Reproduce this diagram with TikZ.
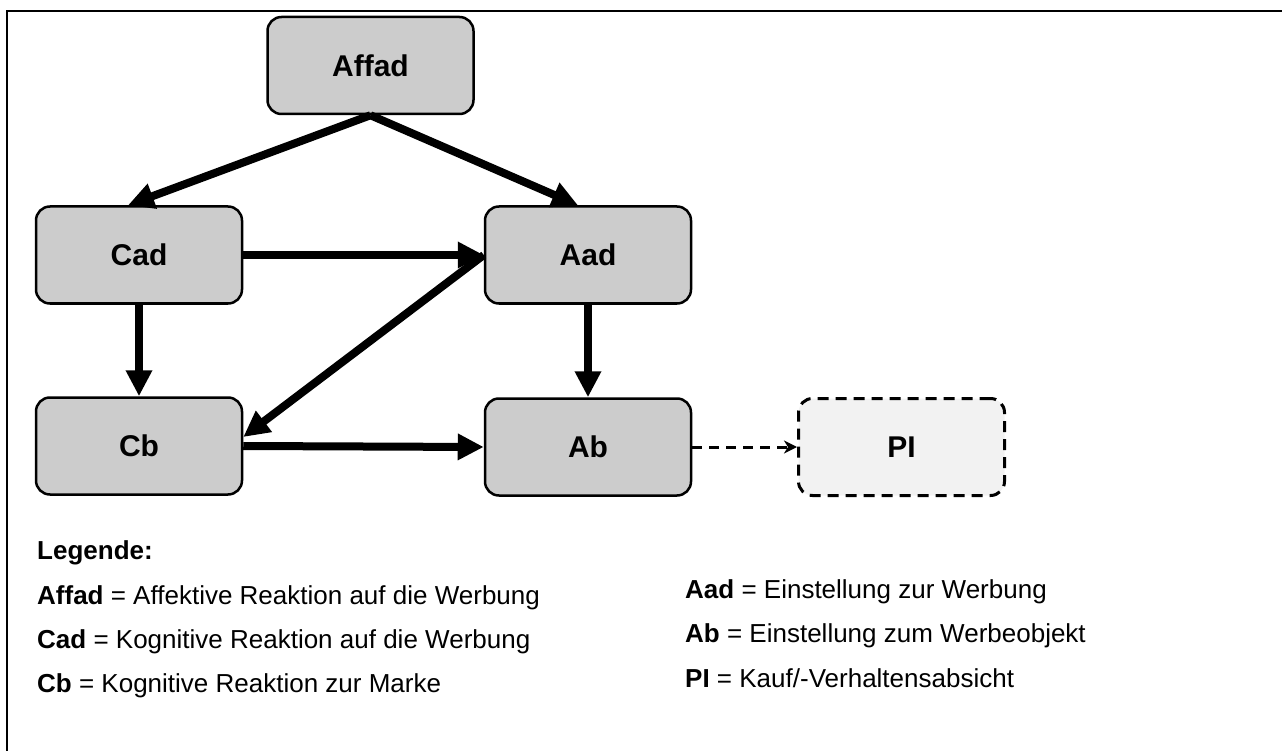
\documentclass[tikz,border=0pt]{standalone}
\usepackage{fontspec}
\setmainfont{Liberation Sans}
\usetikzlibrary{arrows.meta}
\begin{document}
\begin{tikzpicture}[x=1pt,y=-1pt,
  box/.style={draw, line width=2.5pt, rounded corners=14pt, fill=boxgray,
    minimum width=206pt, minimum height=97pt, inner sep=0pt,
    font=\fontsize{30}{35}\selectfont\bfseries},
  dashbox/.style={box, line width=3pt, fill=pigray, dash pattern=on 11pt off 7pt},
  link/.style={line width=8pt, -{Triangle[length=26pt,width=25pt]}},
  dashlink/.style={line width=3pt, dash pattern=on 10pt off 7pt,
    -{Stealth[length=13pt,width=13pt,inset=4pt]}},
  legend/.style={anchor=base west, inner sep=0pt, font=\fontsize{26}{30}\selectfont},
]
\definecolor{boxgray}{HTML}{CCCCCC}
\definecolor{pigray}{HTML}{F2F2F2}
\useasboundingbox (0,0) rectangle (1282,751);

% frame
\draw[line width=2pt] (7,751) -- (7,11) -- (1282,11);

% nodes
\node[box] (Affad) at (370.5,65.5) {Affad};
\node[box] (Cad) at (139,255) {Cad};
\node[box] (Aad) at (588,255) {Aad};
\node[box] (Cb) at (139,446) {Cb};
\node[box] (Ab) at (588,447) {Ab};
\node[dashbox] (PI) at (901.5,447) {PI};

% connectors
\draw[link] (Affad.south) -- ([xshift=-11pt]Cad.north);
\draw[link] (Affad.south) -- ([xshift=-10pt]Aad.north);
\draw[link] (Cad.east) -- (Aad.west);
\draw[link] (Aad.west) -- ([yshift=9pt]Cb.east);
\draw[link] (Cb.east) -- (Ab.west);
\draw[link] (Cad.south) -- (Cb.north);
\draw[link] (Aad.south) -- (Ab.north);
\draw[dashlink] (Ab.east) -- (PI.west);

% legend
\node[legend, font=\fontsize{26}{30}\selectfont\bfseries] (lg) at (37,559) {Legende:};
\node[legend] (l1) at (37,604) {\textbf{Affad} = Affektive Reaktion auf die Werbung};
\node[legend] (l2) at (37,648) {\textbf{Cad} = Kognitive Reaktion auf die Werbung};
\node[legend] (l3) at (37,692) {\textbf{Cb} = Kognitive Reaktion zur Marke};
\node[legend] (r1) at (685,598) {\textbf{Aad} = Einstellung zur Werbung};
\node[legend] (r2) at (685,642) {\textbf{Ab} = Einstellung zum Werbeobjekt};
\node[legend] (r3) at (685,687) {\textbf{PI} = Kauf/-Verhaltensabsicht};
\end{tikzpicture}
\end{document}
